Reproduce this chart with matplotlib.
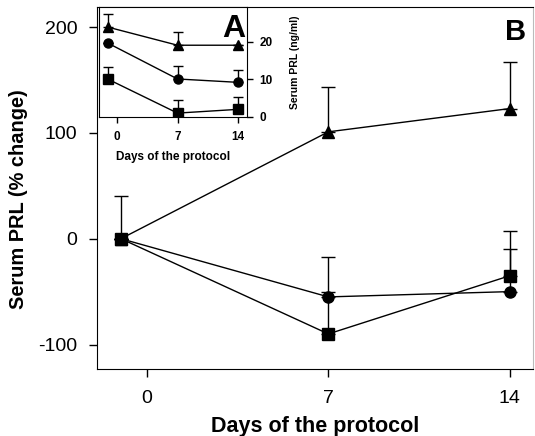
import matplotlib
matplotlib.use("Agg")
import matplotlib.pyplot as plt

plt.rcParams.update({"font.family": "Liberation Sans", "font.size": 11,
                     "axes.unicode_minus": False})

# main panel B: % change from baseline
days = [-1, 7, 14]
tri_pct = [0, 101, 123]
tri_pct_err = [0, 42, 44]
circ_pct = [0, -55, -50]
circ_pct_err = [40, 38, 40]
sq_pct = [0, -90, -35]
sq_pct_err = [0, 40, 42]

# inset A: absolute serum PRL (ng/ml)
tri_abs = [23.9, 19.1, 19.1]
tri_abs_err = [3.4, 3.4, 0.0]
circ_abs = [19.6, 10.1, 9.2]
circ_abs_err = [0.0, 3.4, 3.3]
sq_abs = [10.0, 1.0, 2.0]
sq_abs_err = [3.3, 3.5, 3.3]

xticks = [0, 7, 14]


def draw(ax, series, ms, lw, cap):
    for y, err, mk in series:
        ax.errorbar(days, y, yerr=[[0] * len(err), err], fmt="none",
                    ecolor="black", elinewidth=lw, capsize=cap, capthick=lw)
        ax.plot(days, y, color="black", linewidth=lw, marker=mk,
                markersize=ms, markerfacecolor="black", markeredgecolor="black")


fig = plt.figure(figsize=(5.35, 4.36), dpi=100)
ax = fig.add_axes([0.181, 0.154, 0.815, 0.830])
draw(ax, [(tri_pct, tri_pct_err, "^"), (circ_pct, circ_pct_err, "o"),
          (sq_pct, sq_pct_err, "s")], ms=8, lw=1.0, cap=5)
ax.set_xlim(-1.93, 14.89)
ax.set_ylim(-123, 219)
ax.set_xticks(xticks)
ax.set_yticks([-100, 0, 100, 200])
ax.tick_params(direction="out", length=6, width=1, labelsize=14)
ax.tick_params(axis="y", pad=8)
ax.tick_params(axis="x", pad=9)
ax.set_xlabel("Days of the protocol", fontsize=15.5, fontweight="bold", labelpad=7)
ax.set_ylabel("Serum PRL (% change)", fontsize=14.4, fontweight="bold")
ax.yaxis.set_label_coords(-0.158, 0.47)
ax.spines["right"].set_color("#bbbbbb")
ax.text(0.985, 0.97, "B", transform=ax.transAxes, ha="right", va="top",
        fontsize=21, fontweight="bold")

ins = fig.add_axes([0.185, 0.732, 0.277, 0.252])
draw(ins, [(tri_abs, tri_abs_err, "^"), (circ_abs, circ_abs_err, "o"),
           (sq_abs, sq_abs_err, "s")], ms=6.5, lw=1.0, cap=3.5)
ins.set_xlim(-2.08, 15.05)
ins.set_ylim(0, 29.3)
ins.set_xticks(xticks)
ins.set_yticks([0, 10, 20])
ins.yaxis.tick_right()
ins.yaxis.set_label_position("right")
ins.tick_params(direction="out", length=4, width=1, labelsize=8.5, pad=5)
ins.tick_params(axis="x", pad=6)
for lab in ins.get_xticklabels() + ins.get_yticklabels():
    lab.set_fontweight("bold")
ins.set_xlabel("Days of the protocol", fontsize=8.5, fontweight="bold", labelpad=6)
ins.set_ylabel("Serum PRL (ng/ml)", fontsize=7.5, fontweight="bold", labelpad=12)
ins.text(0.985, 0.94, "A", transform=ins.transAxes, ha="right", va="top",
         fontsize=23, fontweight="bold")

fig.savefig("out.png", dpi=100)
